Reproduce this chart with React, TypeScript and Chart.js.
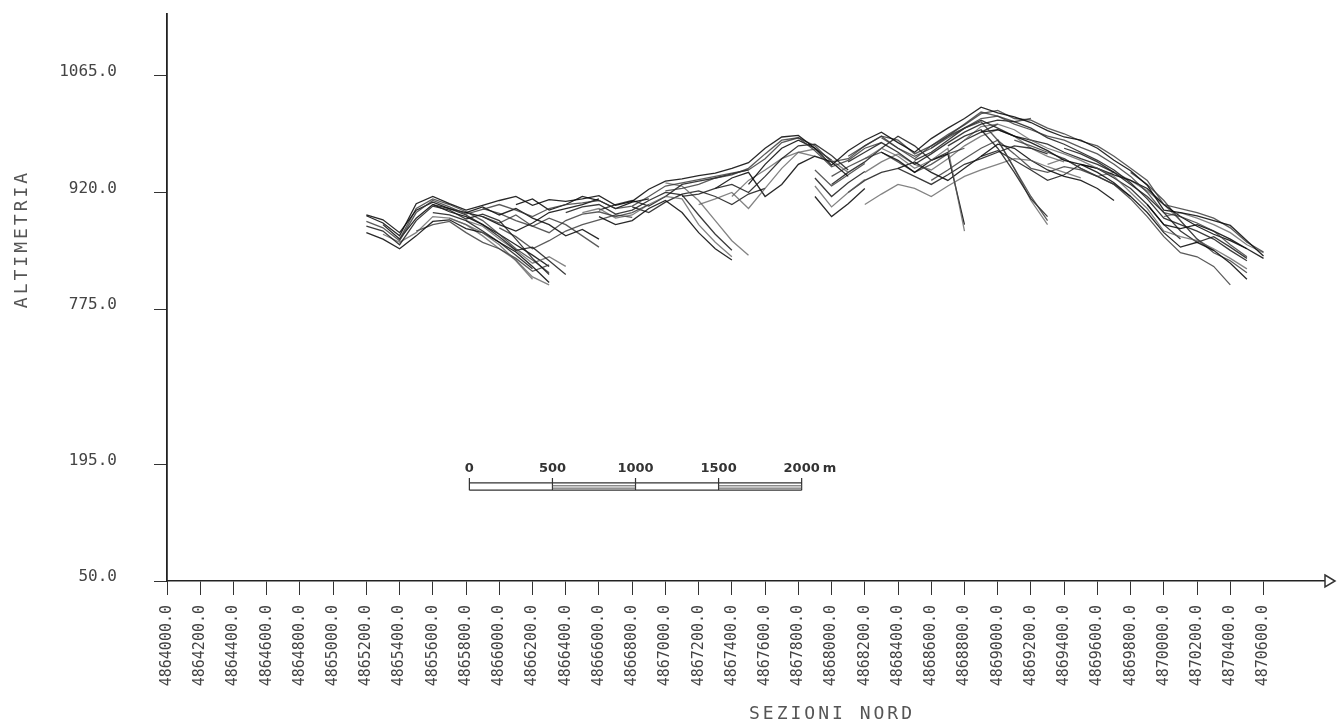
import React, { useEffect, useRef } from 'react';
import { Chart, LinearScale, registerables } from 'chart.js';

Chart.register(...registerables);

// Profile stations along the north axis (m)
const northing = [
  4865200, 4865300, 4865400, 4865500, 4865600, 4865700, 4865800, 4865900, 4866000, 4866100,
  4866200, 4866300, 4866400, 4866500, 4866600, 4866700, 4866800, 4866900, 4867000, 4867100,
  4867200, 4867300, 4867400, 4867500, 4867600, 4867700, 4867800, 4867900, 4868000, 4868100,
  4868200, 4868300, 4868400, 4868500, 4868600, 4868700, 4868800, 4868900, 4869000, 4869100,
  4869200, 4869300, 4869400, 4869500, 4869600, 4869700, 4869800, 4869900, 4870000, 4870100,
  4870200, 4870300, 4870400, 4870500, 4870600,
];

// Tick labels of the north axis
const xTickValues = [
  4864000, 4864200, 4864400, 4864600, 4864800, 4865000, 4865200, 4865400, 4865600, 4865800,
  4866000, 4866200, 4866400, 4866600, 4866800, 4867000, 4867200, 4867400, 4867600, 4867800,
  4868000, 4868200, 4868400, 4868600, 4868800, 4869000, 4869200, 4869400, 4869600, 4869800,
  4870000, 4870200, 4870400, 4870600,
];

// Elevation ticks (the axis is broken between 195 and 775)
const yTickValues = [50, 195, 775, 920, 1065];
const ELEV_MIN = 50;
const ELEV_MAX = 1142;

// Each section: [first station, elevations at consecutive stations]
type Section = [number, number[]];

const sez01: Section = [4865200, [
  891, 882, 866, 906, 915, 906, 898, 904, 910, 915,
  904, 911, 909, 912, 916, 904, 909, 924, 934, 937,
  941, 944, 950, 957, 975, 989, 991, 975, 954, 972,
  985, 995, 982, 970, 987, 1000, 1012, 1026, 1019, 1014,
  1007, 997, 989, 985, 975, 960, 947, 929, 898, 895,
  891, 885, 879, 860, 841]];
const sez02: Section = [4865200, [
  884, 876, 860, 895, 910, 902, 893, 899, 905, 898,
  890, 900, 905, 907, 910, 900, 903, 915, 928, 932,
  936, 940, 944, 948, 962, 982, 988, 978, 958, 962,
  978, 990, 985, 968, 978, 992, 1004, 1018, 1022, 1012,
  1010, 1000, 993, 984, 978, 965, 950, 935, 905, 900,
  895, 888, 876, 858, 846]];
const sez03: Section = [4865200, [878, 872, 855, 885, 903, 898, 887, 893, 885, 862, 838, 818]];
const sez04: Section = [4865300, [868, 858, 870, 890, 888, 880, 870, 855, 835, 812]];
const sez05: Section = [4865200, [870, 862, 850, 866, 884, 886, 875, 870, 858, 846, 828, 808]];
const sez06: Section = [4865500, [872, 880, 884, 870, 858, 850, 838, 822, 830]];
const sez07: Section = [4865600, [895, 892, 885, 872, 858, 842, 825]];
const sez08: Section = [4865700, [888, 880, 866, 850, 836, 815, 805]];
const sez09: Section = [4865800, [895, 902, 892, 900, 888, 880, 866, 874, 862]];
const sez10: Section = [4865900, [890, 882, 892, 878, 870, 885, 893, 896, 890, 895, 905]];
const sez11: Section = [4866400, [895, 902, 905, 893, 898, 910, 920, 917, 892, 868, 848]];
const sez12: Section = [4866500, [895, 900, 888, 892, 905, 915, 912, 880, 858, 840]];
const sez13: Section = [4866600, [890, 880, 885, 900, 910, 895, 870, 850, 836]];
const sez14: Section = [4867000, [922, 925, 930, 938, 942, 950, 968, 985, 988, 972, 952, 960, 975, 982]];
const sez15: Section = [4867100, [915, 918, 925, 930, 920, 940, 962, 978, 980, 966, 948]];
const sez16: Section = [4867200, [905, 912, 920, 900, 925, 950, 970, 974, 960, 945]];
const sez17: Section = [4867300, [925, 938, 945, 915, 930, 955, 965, 958, 940]];
const sez18: Section = [4867900, [948, 928, 942, 956]];
const sez19: Section = [4867900, [938, 915, 932, 946]];
const sez20: Section = [4867900, [928, 902, 920, 936]];
const sez21: Section = [4867900, [915, 890, 906, 925]];
const sez22: Section = [4868100, [
  965, 978, 990, 975, 962, 978, 990, 1000, 1012, 1015,
  1005, 998, 990, 985, 976, 968, 955, 940, 920, 895,
  890, 882, 872, 855, 840]];
const sez23: Section = [4868100, [
  958, 970, 982, 970, 955, 968, 982, 995, 1005, 1010,
  1008, 1000, 988, 980, 970, 960, 948, 932, 912, 888,
  880, 872, 862, 848, 835]];
const sez24: Section = [4868200, [962, 975, 965, 950, 960, 975, 872]];
const sez25: Section = [4868300, [970, 960, 945, 960, 968, 880]];
const sez26: Section = [4868600, [975, 988, 1000, 1008, 985, 950, 915, 885]];
const sez27: Section = [4868700, [978, 990, 998, 975, 945, 912, 890]];
const sez28: Section = [4868800, [985, 1002, 1005, 998, 985, 975, 968, 960, 950, 940, 920, 900, 872, 865, 860, 850, 838, 825]];
const sez29: Section = [4868900, [995, 998, 990, 982, 972, 960, 955, 945, 932, 915, 895, 870, 852, 858, 848, 832, 812]];
const sez30: Section = [4869100, [985, 978, 970, 962, 950, 940, 930, 912, 890, 865, 845, 840, 828, 805]];
const sez31: Section = [4869400, [975, 968, 958, 945, 930, 915, 895, 872, 858, 865, 852, 838]];
const sez32: Section = [4870000, [890, 895, 888, 880, 870, 855, 845]];
const sez33: Section = [4869900, [905, 880, 875, 880, 872, 862, 850, 838]];
const sez34: Section = [4868000, [940, 952, 962, 970, 958, 945, 955, 968, 975]];
const sez35: Section = [4868100, [920, 935, 945, 950, 940, 930, 942, 955, 962, 970, 978, 975, 968]];
const sez36: Section = [4868200, [905, 918, 930, 925, 915, 928, 940, 948, 955, 962, 960, 952, 945, 938]];
const sez37: Section = [4865200, [892, 886, 870, 898, 908, 900, 895, 890, 880, 872, 882, 895, 900, 905, 912]];
const sez38: Section = [4865400, [862, 900, 912, 905, 896, 885, 868, 850, 836, 820]];
const sez39: Section = [4865600, [905, 900, 892, 880, 865, 848, 852, 835, 818]];
const sez40: Section = [4865800, [885, 878, 862, 848, 832, 840, 828]];
const sez41: Section = [4866100, [905, 912, 898, 905, 915, 910, 900, 908, 912]];
const sez42: Section = [4866000, [876, 865, 850, 860, 872, 880, 886, 892, 889]];
const sez43: Section = [4866600, [898, 905, 910, 903, 915, 930, 934, 938, 943, 948]];
const sez44: Section = [4867000, [932, 928, 910, 885, 860, 842]];
const sez45: Section = [4867500, [930, 955, 975, 985, 975, 960]];
const sez46: Section = [4868300, [988, 975, 965, 975, 990, 1005, 1020, 1015, 1008, 1012]];
const sez47: Section = [4868500, [960, 970, 985, 1000, 1010, 1000, 990, 985, 980, 970, 962, 955, 945]];
const sez48: Section = [4869000, [986, 950, 910, 880]];
const sez49: Section = [4869500, [955, 950, 942, 935, 925, 905, 890, 878, 868, 860, 850]];
const sez50: Section = [4869800, [945, 930, 910, 885, 862, 845, 835, 820]];
const sez51: Section = [4868000, [930, 945, 958, 975, 990, 978, 960, 970, 985, 995, 1005]];
const sez52: Section = [4868200, [945, 958, 968, 955, 948, 962, 978, 990, 998, 990, 975, 965, 958]];
const sez53: Section = [4868400, [950, 958, 945, 935, 950, 965, 980, 975, 960, 948, 940, 935, 925, 910]];
const sez54: Section = [4868600, [935, 948, 962, 975, 985, 968, 950, 945, 952, 948, 940, 930, 915]];
const sez55: Section = [4868900, [965, 972, 960, 948, 935, 942, 955, 950, 938, 925, 905, 880, 862]];
const sez56: Section = [4869300, [955, 962, 950, 940, 945, 935, 922, 905, 885, 862, 848]];
const sez57: Section = [4865300, [880, 862, 888, 905, 896, 890, 880, 868, 855, 842, 828]];
const sez58: Section = [4865900, [900, 894, 885, 878, 888, 880, 866, 852]];
const sez59: Section = [4866800, [902, 895, 908, 918, 922, 915, 905, 918, 925]];
const sez60: Section = [4867400, [915, 935, 948, 962, 970, 965]];

const sections: Section[] = [
  sez01, sez02, sez03, sez04, sez05, sez06, sez07, sez08, sez09, sez10,
  sez11, sez12, sez13, sez14, sez15, sez16, sez17, sez18, sez19, sez20,
  sez21, sez22, sez23, sez24, sez25, sez26, sez27, sez28, sez29, sez30,
  sez31, sez32, sez33, sez34, sez35, sez36, sez37, sez38, sez39, sez40,
  sez41, sez42, sez43, sez44, sez45, sez46, sez47, sez48, sez49, sez50,
  sez51, sez52, sez53, sez54, sez55, sez56, sez57, sez58, sez59, sez60,
];

const penColors = ['rgba(10,10,10,0.88)', 'rgba(50,50,50,0.8)', 'rgba(25,25,25,0.85)', 'rgba(90,90,90,0.75)'];

// Graphic scale bar (metres along the north axis)
const scaleBarStart = 4865820;
const scaleBarMarks = [0, 500, 1000, 1500, 2000];
const scaleBarTopElev = 172;
const scaleBarBottomElev = 163;

// Broken elevation axis: the 195–775 stretch is drawn at one third of its size
const BREAK_HIGH = 775;
const BREAK_LOW = 195;
const BREAK_SQUEEZE = 1 / 3;

function toAxisUnits(v: number): number {
  if (v >= BREAK_HIGH) return v;
  if (v >= BREAK_LOW) return BREAK_HIGH - (BREAK_HIGH - v) * BREAK_SQUEEZE;
  return BREAK_HIGH - (BREAK_HIGH - BREAK_LOW) * BREAK_SQUEEZE - (BREAK_LOW - v);
}

function fromAxisUnits(a: number): number {
  const lowKnee = toAxisUnits(BREAK_LOW);
  if (a >= BREAK_HIGH) return a;
  if (a >= lowKnee) return BREAK_HIGH - (BREAK_HIGH - a) / BREAK_SQUEEZE;
  return BREAK_LOW - (lowKnee - a);
}

class BrokenElevationScale extends LinearScale {
  static id = 'brokenElevation';
  static defaults = LinearScale.defaults;
  getPixelForValue(value: number): number {
    if (value === null || value === undefined) return NaN;
    return super.getPixelForValue(toAxisUnits(value));
  }
  getValueForPixel(pixel: number): number {
    return fromAxisUnits(super.getValueForPixel(pixel));
  }
}
Chart.register(BrokenElevationScale as any);

const overlayPlugin = {
  id: 'sectionOverlay',
  afterDraw(chart: any) {
    const { ctx, chartArea, scales } = chart;
    const x = scales.x;
    const y = scales.y;
    ctx.save();

    // arrow head at the end of the north axis
    const ax = chartArea.right;
    const ay = chartArea.bottom;
    ctx.beginPath();
    ctx.moveTo(ax, ay - 6);
    ctx.lineTo(ax + 10, ay);
    ctx.lineTo(ax, ay + 6);
    ctx.closePath();
    ctx.fillStyle = '#fff';
    ctx.fill();
    ctx.strokeStyle = '#333';
    ctx.lineWidth = 1.5;
    ctx.stroke();

    // axis titles
    ctx.font = '18px "DejaVu Sans Mono"';
    (ctx as any).letterSpacing = '3px';
    ctx.fillStyle = '#555';
    ctx.textAlign = 'center';
    ctx.textBaseline = 'middle';
    ctx.fillText('SEZIONI NORD', 832, 714);
    ctx.save();
    ctx.translate(22, 239);
    ctx.rotate(-Math.PI / 2);
    ctx.fillText('ALTIMETRIA', 0, 0);
    ctx.restore();
    (ctx as any).letterSpacing = '0px';

    // scale bar
    const top = y.getPixelForValue(scaleBarTopElev);
    const bot = y.getPixelForValue(scaleBarBottomElev);
    const px = scaleBarMarks.map((m) => x.getPixelForValue(scaleBarStart + m));
    ctx.strokeStyle = '#333';
    ctx.lineWidth = 1.2;
    ctx.beginPath();
    ctx.moveTo(px[0], top);
    ctx.lineTo(px[px.length - 1], top);
    ctx.moveTo(px[0], bot);
    ctx.lineTo(px[px.length - 1], bot);
    px.forEach((p) => {
      ctx.moveTo(p, top - 5);
      ctx.lineTo(p, bot);
    });
    ctx.stroke();
    ctx.lineWidth = 1;
    ctx.strokeStyle = '#555';
    ctx.beginPath();
    for (let i = 1; i < px.length - 1; i += 2) {
      const y1 = top + (bot - top) * 0.4;
      const y2 = top + (bot - top) * 0.72;
      ctx.moveTo(px[i], y1);
      ctx.lineTo(px[i + 1], y1);
      ctx.moveTo(px[i], y2);
      ctx.lineTo(px[i + 1], y2);
    }
    ctx.stroke();

    ctx.font = 'bold 13px "DejaVu Sans"';
    ctx.fillStyle = '#333';
    ctx.textAlign = 'center';
    ctx.textBaseline = 'alphabetic';
    scaleBarMarks.forEach((m, i) => {
      ctx.fillText(String(m), px[i], top - 11);
    });
    ctx.textAlign = 'left';
    ctx.fillText('m', px[px.length - 1] + 21, top - 11);

    ctx.restore();
  },
};

export default function App() {
  const canvasRef = useRef<HTMLCanvasElement>(null);

  useEffect(() => {
    if (!canvasRef.current) return;
    const datasets = sections.map(([from, elev], k) => {
      const start = northing.indexOf(from);
      return {
        label: `sez${k + 1}`,
        data: elev.map((e, i) => ({ x: northing[start + i], y: e })),
        borderColor: penColors[k % penColors.length],
        borderWidth: 1.3,
        pointRadius: 0,
        tension: 0,
        fill: false,
      };
    });

    const axisFont = { family: '"DejaVu Sans Mono", monospace' };

    const chart = new Chart(canvasRef.current, {
      type: 'line',
      data: { datasets },
      options: {
        animation: false,
        responsive: true,
        maintainAspectRatio: false,
        layout: { padding: { top: 14, right: 12, left: 0, bottom: 0 } },
        plugins: { legend: { display: false }, tooltip: { enabled: false } },
        scales: {
          x: {
            type: 'linear',
            min: 4864000,
            max: 4870970,
            bounds: 'data',
            afterBuildTicks: (s: any) => {
              s.ticks = xTickValues.map((v) => ({ value: v }));
            },
            afterFit: (s: any) => {
              s.height = 143;
              s.paddingLeft = 0;
              s.paddingRight = 0;
            },
            grid: { display: true, drawOnChartArea: false, drawTicks: true, tickLength: 14, color: '#333', lineWidth: 1 },
            border: { display: true, color: '#222', width: 1.5 },
            ticks: {
              autoSkip: false,
              minRotation: 90,
              maxRotation: 90,
              padding: 10,
              color: '#444',
              font: { ...axisFont, size: 15 },
              callback: (v: any) => Number(v).toFixed(1),
            },
          },
          y: {
            type: 'brokenElevation' as any,
            min: toAxisUnits(ELEV_MIN),
            max: ELEV_MAX,
            bounds: 'data',
            afterBuildTicks: (s: any) => {
              s.ticks = yTickValues.map((v) => ({ value: v }));
            },
            afterFit: (s: any) => {
              s.width = 167;
              s.paddingTop = 0;
              s.paddingBottom = 0;
            },
            grid: { display: true, drawOnChartArea: false, drawTicks: true, tickLength: 13, color: '#333', lineWidth: 1 },
            border: { display: true, color: '#222', width: 1.8 },
            ticks: {
              padding: 37,
              labelOffset: -4,
              color: '#444',
              font: { ...axisFont, size: 16 },
              callback: (v: any) => Number(v).toFixed(1),
            },
          },
        },
      } as any,
      plugins: [overlayPlugin],
    });

    return () => chart.destroy();
  }, []);

  return (
    <div style={{ position: 'fixed', left: 0, top: 0, width: 1337, height: 724, background: '#fff' }}>
      <canvas ref={canvasRef} />
    </div>
  );
}
